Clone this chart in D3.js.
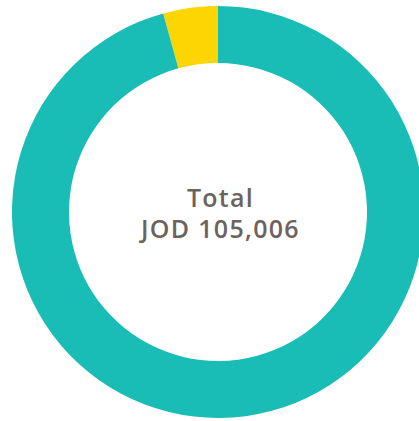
<!DOCTYPE html>
<html><head><meta charset="utf-8">
<script src="https://cdn.jsdelivr.net/npm/d3@7"></script>
<style>html,body{margin:0;padding:0;background:#fff;}</style>
</head><body>
<svg id="c" width="419" height="421"></svg>
<script>
const categories = ["Other", "Main"];
const values = [4500, 100506];
const colors = ["#fdd500", "#19bdb5"];
const centerLines = ["Total", "JOD 105,006"];

const svg = d3.select("#c");
const cx = 218, cy = 212, rOuter = 206, rInner = 149;
const g = svg.append("g").attr("transform", `translate(${cx},${cy})`);

const offset = values[0] / d3.sum(values) * 2 * Math.PI;
const pie = d3.pie().sort(null).value(d => d.v).startAngle(-offset).endAngle(2 * Math.PI - offset);
const data = categories.map((c, i) => ({c, v: values[i], col: colors[i]}));
const arc = d3.arc().innerRadius(rInner).outerRadius(rOuter);
g.selectAll("path").data(pie(data)).join("path")
  .attr("d", arc).attr("fill", d => d.data.col);

g.selectAll("text").data(centerLines).join("text")
  .attr("text-anchor", "middle")
  .attr("x", 2.5)
  .attr("y", (d, i) => -5 + i * 31)
  .attr("font-family", "'Open Sans', sans-serif")
  .attr("font-weight", 600)
  .attr("font-size", 25)
  .attr("letter-spacing", "1.3px")
  .attr("fill", "#6b6360")
  .text(d => d);
</script>
</body></html>
